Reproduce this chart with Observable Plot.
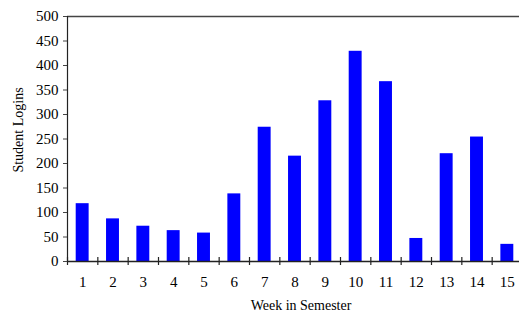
<!DOCTYPE html>
<html>
<head>
<meta charset="utf-8">
<script src="https://cdn.jsdelivr.net/npm/d3@7"></script>
<script src="https://cdn.jsdelivr.net/npm/@observablehq/plot@0.6"></script>
<style>
  html, body { margin: 0; padding: 0; background: #fff; overflow: hidden; }
  #chart svg { display: block; }
</style>
</head>
<body>
<div id="chart"></div>
<script>
const weeks = [1, 2, 3, 4, 5, 6, 7, 8, 9, 10, 11, 12, 13, 14, 15];
const logins = [118, 87, 72, 63, 58, 138, 274, 215, 328, 429, 367, 47, 220, 254, 35];
const yTicks = [0, 50, 100, 150, 200, 250, 300, 350, 400, 450, 500];
const xTitle = "Week in Semester";
const yTitle = "Student Logins";

const data = weeks.map((w, i) => ({week: w, value: logins[i]}));
const boundaries = [weeks[0] - 0.5, ...weeks.map(w => w + 0.5)];

const font = "'Liberation Serif', 'Times New Roman', serif";

const chart = Plot.plot({
  width: 519,
  height: 312,
  marginLeft: 67,
  marginRight: -3,
  marginTop: 16,
  marginBottom: 51,
  style: {fontFamily: font, fontSize: "15px", color: "#000", background: "#fff"},
  x: {type: "linear", domain: [0.5, 15.5]},
  y: {domain: [0, 500]},
  marks: [
    Plot.rectY(data, {x1: d => d.week - 0.5, x2: d => d.week + 0.5, y: "value", fill: "#0000ff", insetLeft: 8.7, insetRight: 8.7}),
    Plot.ruleY([500], {stroke: "#444", strokeWidth: 1.3}),
    Plot.ruleY([0], {stroke: "#222", strokeWidth: 1.3}),
    Plot.ruleX([0.5], {stroke: "#222", strokeWidth: 1.2}),
    Plot.ruleX(boundaries, {x: d => d, y1: 0, y2: 0, insetTop: -4, insetBottom: -4, stroke: "#222", strokeWidth: 1.2}),
    Plot.axisY(yTicks, {tickSize: 4, tickPadding: 5, label: null, stroke: "#444", fontSize: 15}),
    Plot.axisX(weeks, {tickSize: 0, tickPadding: 15, label: null, fontSize: 15, tickFormat: d => String(d)}),
    Plot.text([xTitle], {frameAnchor: "bottom", dx: 6, dy: 44, textAnchor: "middle", lineAnchor: "middle", fontSize: 14}),
    Plot.text([yTitle], {frameAnchor: "left", rotate: -90, dx: -49, dy: -9, textAnchor: "middle", lineAnchor: "middle", fontSize: 14})
  ]
});
document.getElementById("chart").appendChild(chart);
</script>
</body>
</html>
